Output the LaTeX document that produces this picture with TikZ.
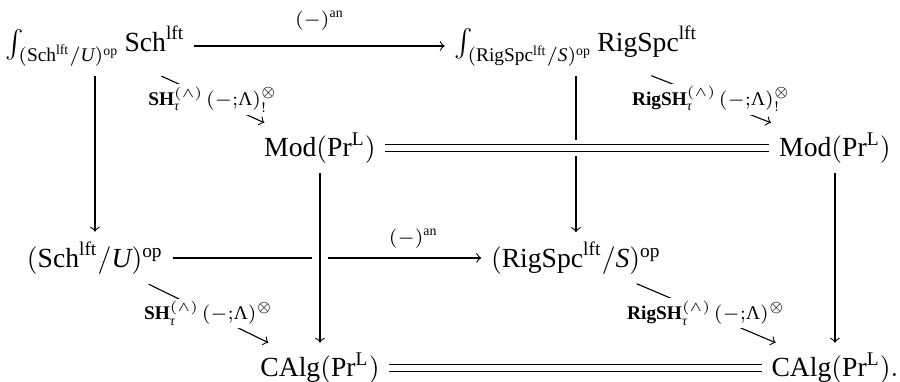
\documentclass[tikz,border=0pt]{standalone}
\usepackage{amsmath}
\usepackage{fontspec}
\setmainfont{Liberation Serif}
\newcommand{\Sch}{\mathrm{Sch}}
\newcommand{\RigSpc}{\mathrm{RigSpc}}
\newcommand{\lftx}{\mathrm{lft}}
\newcommand{\PrL}{\mathrm{Pr}^{\mathrm{L}}}
\newcommand{\tauit}{\text{\itshape τ}}
\newcommand{\Lamup}{\text{Λ}}
\begin{document}
\begin{tikzpicture}
    % Styles
    \tikzstyle{arr} = [->, line width=0.4pt]
    \tikzstyle{desc} = [fill=white, inner sep=1pt, midway]
    \tikzstyle{eq} = [double, double distance=2pt, line width=0.4pt]
    \tikzstyle{over} = [preaction={draw=white, -, line width=6pt}]

    \useasboundingbox (0,0) rectangle (11.44,4.855);

    % Nodes
    \node (tl) at (1.207,4.27) {$\int_{(\Sch^{\lftx}/\mathit{U})^{\mathrm{op}}}\Sch^{\lftx}$};
    \node (tr) at (7.321,4.27) {$\int_{(\RigSpc^{\lftx}/\mathit{S})^{\mathrm{op}}}\RigSpc^{\lftx}$};
    \node (modl) at (4.067,2.974) {$\mathrm{Mod}(\PrL)$};
    \node (modr) at (10.613,2.974) {$\mathrm{Mod}(\PrL)$};
    \node (schu) at (1.207,1.576) {$(\Sch^{\lftx}/\mathit{U})^{\mathrm{op}}$};
    \node (rigs) at (7.321,1.576) {$(\RigSpc^{\lftx}/\mathit{S})^{\mathrm{op}}$};
    \node (calgl) at (4.067,0.178) {$\mathrm{CAlg}(\PrL)$};
    \node (calgr) at (10.613,0.178) {$\mathrm{CAlg}(\PrL).$};

    % Back face
    \draw[arr] (tl) -- node[above=2pt] {$\scriptstyle(-)^{\mathrm{an}}$} (tr);
    \draw[arr] (tl) -- (schu);
    \draw[arr] (tr) -- (rigs);
    \draw[arr] (schu) -- node[above, pos=0.78] {$\scriptstyle(-)^{\mathrm{an}}$} (rigs);

    % Diagonals
    \draw[arr] (tl) -- node[desc] {$\scriptstyle\mathbf{SH}^{(\wedge)}_{\tauit}\mkern2mu(-;\Lamup)^{\otimes}_{!}$} (modl);
    \draw[arr] (tr) -- node[desc] {$\scriptstyle\mathbf{RigSH}^{(\wedge)}_{\tauit}\mkern2mu(-;\Lamup)^{\otimes}_{!}$} (modr);
    \draw[arr] (schu) -- node[desc] {$\scriptstyle\mathbf{SH}^{(\wedge)}_{\tauit}\mkern2mu(-;\Lamup)^{\otimes}$} (calgl);
    \draw[arr] (rigs) -- node[desc] {$\scriptstyle\mathbf{RigSH}^{(\wedge)}_{\tauit}\mkern2mu(-;\Lamup)^{\otimes}$} (calgr);

    % Front face
    \draw[eq, over] (modl) -- (modr);
    \draw[arr, over] (modl) -- (calgl);
    \draw[arr] (modr) -- (calgr);
    \draw[eq] (calgl) -- (calgr);
\end{tikzpicture}
\end{document}
